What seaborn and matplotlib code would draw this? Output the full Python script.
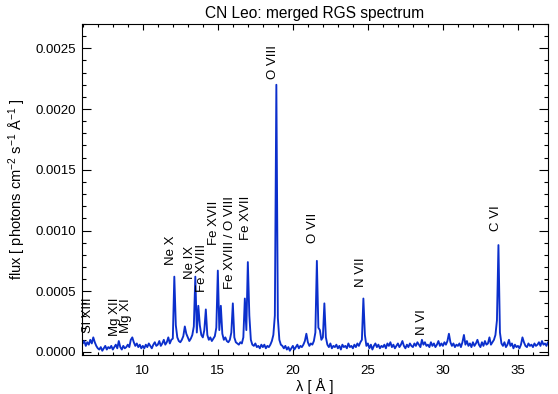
import numpy as np
import pandas as pd
import matplotlib
matplotlib.use("Agg")
import matplotlib.pyplot as plt
from matplotlib.ticker import MultipleLocator, FormatStrFormatter
import seaborn as sns

# wavelength grid (Angstrom), 0.1 A steps from 6.0 to 37.0
wavelength = np.round(np.arange(6.0, 37.05, 0.1), 2)

# flux in units of 1e-5 photons cm^-2 s^-1 A^-1 (one row per Angstrom)
flux_1e5 = [
    7, 9, 5, 8, 6, 10, 7, 12, 8, 5,        # 6
    3, 2, 4, 1, 3, 5, 2, 4, 3, 5,          # 7
    2, 4, 6, 3, 9, 4, 2, 5, 3, 4,          # 8
    6, 4, 10, 12, 8, 5, 7, 4, 6, 3,        # 9
    5, 3, 6, 4, 7, 5, 3, 6, 8, 5,          # 10
    6, 9, 5, 7, 10, 6, 8, 12, 7, 10,       # 11
    11, 62, 22, 12, 9, 8, 10, 13, 21, 15,  # 12
    12, 9, 11, 14, 21, 62, 16, 38, 22, 14, # 13
    12, 18, 35, 14, 10, 12, 9, 11, 13, 20, # 14
    67, 18, 38, 15, 10, 12, 9, 8, 10, 16,  # 15
    40, 12, 8, 7, 6, 8, 7, 12, 44, 18,     # 16
    74, 30, 10, 6, 5, 7, 4, 5, 3, 6,       # 17
    4, 6, 3, 5, 4, 6, 9, 14, 30, 220,      # 18
    28, 10, 6, 5, 3, 5, 2, 4, 1, 3,        # 19
    5, 2, 4, 6, 3, 5, 4, 6, 9, 15,         # 20
    8, 5, 7, 6, 9, 16, 75, 20, 18, 10,     # 21
    12, 40, 12, 6, 4, 7, 3, 5, 4, 6,       # 22
    3, 5, 2, 6, 4, 5, 3, 7, 4, 5,          # 23
    3, 6, 4, 7, 5, 8, 10, 44, 14, 5,       # 24
    7, 3, 6, 2, 5, 7, 4, 6, 3, 5,          # 25
    4, 6, 3, 7, 5, 8, 4, 6, 3, 5,          # 26
    7, 4, 6, 9, 5, 3, 6, 4, 7, 5,          # 27
    4, 7, 5, 8, 6, 4, 10, 6, 8, 5,         # 28
    6, 4, 8, 5, 7, 4, 6, 9, 5, 7,          # 29
    5, 8, 6, 9, 15, 8, 5, 7, 4, 6,         # 30
    5, 7, 4, 8, 14, 6, 9, 5, 7, 4,         # 31
    8, 5, 7, 10, 6, 4, 8, 5, 9, 6,         # 32
    7, 12, 6, 8, 10, 14, 26, 88, 16, 7,    # 33
    5, 8, 4, 6, 10, 5, 7, 3, 6, 4,         # 34
    5, 3, 6, 12, 8, 5, 4, 7, 5, 6,         # 35
    4, 7, 5, 6, 8, 5, 9, 6, 7, 5,          # 36
    8,                                     # 37.0
]
flux = np.array(flux_1e5) * 1e-5

# ion labels: text, wavelength position, flux position of the label's lower end
ion_names = ["Si XIII", "Mg XII", "Mg XI", "Ne X", "Ne IX", "Fe XVIII", "Fe XVII",
             "Fe XVIII / O VIII", "Fe XVII", "O VIII", "O VII", "N VII", "N VI", "C VI"]
ion_wave = [6.33, 8.13, 8.91, 11.87, 13.13, 13.95, 14.75,
            15.8, 16.91, 18.69, 21.31, 24.51, 28.58, 33.51]
ion_flux = [0.00016, 0.00013, 0.00016, 0.00072, 0.00060, 0.00049, 0.00088,
            0.00052, 0.00092, 0.00225, 0.00090, 0.000535, 0.000143, 0.00100]

sns.set_theme(style="ticks")
plt.rcParams["font.family"] = ["Liberation Sans", "DejaVu Sans"]
plt.rcParams["mathtext.fontset"] = "custom"
plt.rcParams["mathtext.rm"] = "Liberation Sans"
plt.rcParams["mathtext.it"] = "Liberation Sans"

fig = plt.figure(figsize=(5.58, 3.94), dpi=100)
ax = fig.add_axes([0.147, 0.099, 0.835, 0.840])

df = pd.DataFrame({"wavelength": wavelength, "flux": flux})
sns.lineplot(data=df, x="wavelength", y="flux", ax=ax, color="#0b2fcc",
             linewidth=1.35, estimator=None, sort=False)

ax.set_xlim(5.95, 37.0)
ax.set_ylim(-0.000025, 0.0027)

ax.xaxis.set_major_locator(MultipleLocator(5))
ax.xaxis.set_minor_locator(MultipleLocator(1))
ax.yaxis.set_major_locator(MultipleLocator(0.0005))
ax.yaxis.set_minor_locator(MultipleLocator(0.0001))
ax.yaxis.set_major_formatter(FormatStrFormatter("%.4f"))

ax.tick_params(axis="both", which="both", direction="in", top=True, right=True,
               color="black", width=0.8, labelsize=9.5, labelcolor="black")
ax.tick_params(axis="x", which="major", length=4.5, pad=7)
ax.tick_params(axis="x", which="minor", length=2.2)
ax.tick_params(axis="y", which="major", length=6.5, pad=4)
ax.tick_params(axis="y", which="minor", length=3.2)
for s in ax.spines.values():
    s.set_color("black")
    s.set_linewidth(0.8)

ax.set_xlabel("λ [ Å ]", fontsize=10.5, color="black", labelpad=1)
ax.set_ylabel("flux [ photons cm$^{-2}$ s$^{-1}$ Å$^{-1}$ ]", fontsize=10.5,
              color="black", labelpad=6)
ax.set_title("CN Leo: merged RGS spectrum", fontsize=11.2, color="black", pad=4)

for name, xw, yf in zip(ion_names, ion_wave, ion_flux):
    ax.text(xw, yf, name, rotation=90, ha="center", va="bottom",
            fontsize=9.5, color="black")

fig.savefig("out.png", dpi=100)
